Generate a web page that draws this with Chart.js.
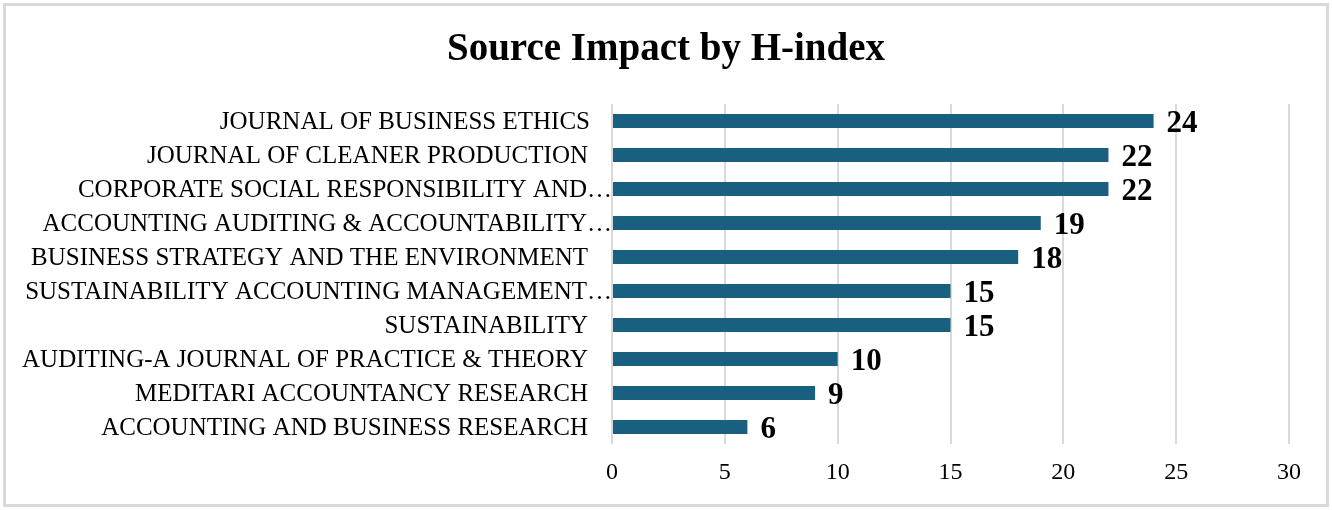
<!DOCTYPE html>
<html>
<head>
<meta charset="utf-8">
<script src="https://cdn.jsdelivr.net/npm/chart.js@4.4.1/dist/chart.umd.min.js"></script>
<style>
    body { margin: 0; background: #fff; }
    #wrap { position: absolute; left: 0; top: 0; width: 1332px; height: 510px; }
    #frame {
        position: absolute; left: 3px; top: 3px; width: 1326px; height: 504px;
        box-sizing: border-box; border: 3px solid #d9d9d9; pointer-events: none;
    }
</style>
</head>
<body>
<div id="wrap">
    <canvas id="hChart" width="1332" height="510"></canvas>
    <div id="frame"></div>
</div>
<script>
// Data
const categories = [
    'JOURNAL OF BUSINESS ETHICS',
    'JOURNAL OF CLEANER PRODUCTION ',
    'CORPORATE SOCIAL RESPONSIBILITY AND…',
    'ACCOUNTING AUDITING & ACCOUNTABILITY…',
    'BUSINESS STRATEGY AND THE ENVIRONMENT ',
    'SUSTAINABILITY ACCOUNTING MANAGEMENT…',
    'SUSTAINABILITY ',
    'AUDITING-A JOURNAL OF PRACTICE & THEORY ',
    'MEDITARI ACCOUNTANCY RESEARCH ',
    'ACCOUNTING AND BUSINESS RESEARCH '
];
const hIndex = [24, 22, 22, 19, 18, 15, 15, 10, 9, 6];
const xMin = 0;
const xMax = 30;
const xStep = 5;
const titleText = 'Source Impact by H-index';

const serif = '"Liberation Serif", "Times New Roman", serif';

// Title drawn at the centre of the whole picture
const titlePlugin = {
    id: 'titlePlugin',
    afterDraw(chart) {
        const ctx = chart.ctx;
        ctx.save();
        ctx.font = 'bold 39px ' + serif;
        ctx.fillStyle = '#000';
        ctx.textAlign = 'center';
        ctx.textBaseline = 'middle';
        ctx.fillText(titleText, chart.width / 2, 50);
        ctx.restore();
    }
};

// Category names: truncated ones run up to the bars, the others stop a bit earlier
const categoryLabels = {
    id: 'categoryLabels',
    afterDraw(chart) {
        const ctx = chart.ctx;
        const yScale = chart.scales.y;
        const left = chart.chartArea.left;
        ctx.save();
        ctx.font = '25px ' + serif;
        ctx.fillStyle = '#000';
        ctx.textAlign = 'right';
        ctx.textBaseline = 'middle';
        categories.forEach((name, i) => {
            let right = left - 22;
            if (name.endsWith('…')) right = left;
            else if (name.endsWith(' ')) right = left - 24;
            ctx.fillText(name.trimEnd(), right, yScale.getPixelForValue(i) + 1);
        });
        ctx.restore();
    }
};

// Value labels at the end of each bar
const valueLabels = {
    id: 'valueLabels',
    afterDatasetsDraw(chart) {
        const ctx = chart.ctx;
        const meta = chart.getDatasetMeta(0);
        ctx.save();
        ctx.font = 'bold 31px ' + serif;
        ctx.fillStyle = '#000';
        ctx.textAlign = 'left';
        ctx.textBaseline = 'middle';
        meta.data.forEach((bar, i) => {
            ctx.fillText(hIndex[i], bar.x + 13, bar.y + 3);
        });
        ctx.restore();
    }
};

const ctx = document.getElementById('hChart').getContext('2d');
new Chart(ctx, {
    type: 'bar',
    data: {
        labels: categories,
        datasets: [{
            data: hIndex,
            backgroundColor: '#195f80',
            categoryPercentage: 1,
            barPercentage: 0.41
        }]
    },
    options: {
        indexAxis: 'y',
        responsive: false,
        animation: false,
        layout: { padding: { top: 104, right: 43, bottom: 0, left: 0 } },
        plugins: {
            legend: { display: false },
            title: { display: false },
            tooltip: { enabled: false }
        },
        scales: {
            x: {
                min: xMin,
                max: xMax,
                ticks: {
                    stepSize: xStep,
                    color: '#000',
                    padding: 14,
                    font: { family: serif, size: 24 }
                },
                grid: { color: '#d9d9d9', lineWidth: 2, drawTicks: false },
                border: { display: false },
                afterFit(scale) { scale.height = 66; }
            },
            y: {
                ticks: { display: false },
                grid: { display: false, drawTicks: false },
                border: { display: false },
                afterFit(scale) { scale.width = 612; }
            }
        }
    },
    plugins: [titlePlugin, categoryLabels, valueLabels]
});
</script>
</body>
</html>
